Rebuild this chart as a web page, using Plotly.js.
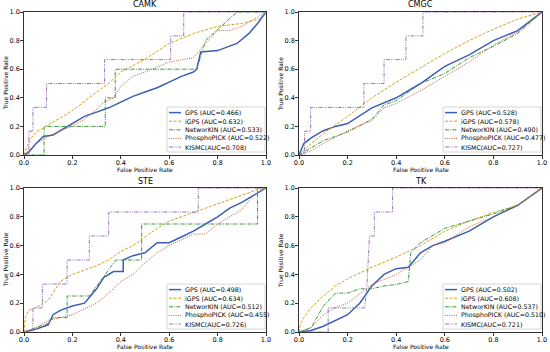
<!DOCTYPE html>
<html>
<head>
<meta charset="utf-8">
<script src="https://cdn.plot.ly/plotly-3.0.1.min.js"></script>
<style>html,body{margin:0;padding:0;background:#fff}#chart{width:550px;height:352px}</style>
</head>
<body>
<div id="chart"></div>
<script>
// ---------- DATA ----------
const panelNames = ["CAMK", "CMGC", "STE", "TK"];
const methodNames = ["GPS", "iGPS", "NetworKIN", "PhosphoPICK", "KISMC"];

// AUC values per panel [GPS, iGPS, NetworKIN, PhosphoPICK, KISMC]
const aucCAMK = ["0.466", "0.632", "0.533", "0.522", "0.708"];
const aucCMGC = ["0.528", "0.578", "0.490", "0.477", "0.727"];
const aucSTE  = ["0.498", "0.634", "0.512", "0.455", "0.726"];
const aucTK   = ["0.502", "0.608", "0.537", "0.510", "0.721"];

// ---- CAMK ----
const camkGpsX = [0,0.02,0.05,0.08,0.12,0.15,0.2,0.25,0.3,0.35,0.4,0.45,0.5,0.55,0.6,0.65,0.7,0.714,0.73,0.8,0.88,0.93,0.97,1];
const camkGpsY = [0,0.02,0.08,0.13,0.14,0.17,0.22,0.27,0.3,0.33,0.37,0.41,0.44,0.47,0.51,0.55,0.58,0.6,0.72,0.73,0.78,0.85,0.93,1];
const camkIgpsX = [0,0.01,0.03,0.05,0.1,0.15,0.2,0.3,0.35,0.4,0.5,0.6,0.7,0.8,0.9,0.97,1];
const camkIgpsY = [0,0.05,0.12,0.16,0.21,0.26,0.31,0.44,0.5,0.58,0.67,0.78,0.85,0.9,0.92,0.95,1];
const camkNetX = [0,0.083,0.083,0.336,0.336,0.377,0.377,0.714,0.75,0.88,1];
const camkNetY = [0,0,0.2,0.2,0.4,0.4,0.6,0.6,0.8,1,1];
const camkPpX = [0,0.03,0.05,0.1,0.15,0.2,0.25,0.3,0.33,0.37,0.4,0.45,0.5,0.6,0.7,0.75,0.8,0.85,0.9,0.95,1];
const camkPpY = [0,0.05,0.08,0.13,0.17,0.2,0.25,0.32,0.37,0.4,0.48,0.55,0.58,0.65,0.68,0.78,0.87,0.87,0.9,0.95,1];
const camkKisX = [0,0.02,0.02,0.037,0.037,0.093,0.093,0.333,0.333,0.606,0.606,0.66,0.66,1];
const camkKisY = [0,0,0.167,0.167,0.333,0.333,0.5,0.5,0.667,0.667,0.833,0.833,1,1];

// ---- CMGC ----
const cmgcGpsX = [0,0.02,0.05,0.1,0.15,0.2,0.3,0.4,0.5,0.6,0.7,0.8,0.9,1];
const cmgcGpsY = [0,0.08,0.12,0.17,0.2,0.22,0.33,0.4,0.5,0.62,0.7,0.8,0.87,1];
const cmgcIgpsX = [0,0.05,0.1,0.2,0.3,0.4,0.5,0.6,0.7,0.8,0.9,1];
const cmgcIgpsY = [0,0.08,0.15,0.27,0.4,0.51,0.61,0.71,0.8,0.88,0.95,1];
const cmgcNetX = [0,0.05,0.1,0.2,0.3,0.35,0.4,0.5,0.6,0.7,0.8,0.9,1];
const cmgcNetY = [0,0.05,0.1,0.16,0.25,0.35,0.38,0.5,0.57,0.68,0.76,0.85,1];
const cmgcPpX = [0,0.05,0.1,0.2,0.3,0.35,0.4,0.5,0.6,0.7,0.8,0.9,1];
const cmgcPpY = [0,0.03,0.08,0.17,0.24,0.33,0.36,0.45,0.55,0.65,0.77,0.86,1];
const cmgcKisX = [0,0.023,0.023,0.048,0.048,0.267,0.267,0.35,0.35,0.44,0.44,0.51,0.51,1];
const cmgcKisY = [0,0,0.167,0.167,0.333,0.333,0.5,0.5,0.667,0.667,0.833,0.833,1,1];

// ---- STE ----
const steGpsX = [0,0.05,0.1,0.12,0.15,0.2,0.25,0.3,0.33,0.37,0.41,0.41,0.45,0.5,0.55,0.6,0.65,0.7,0.75,0.8,0.85,0.9,0.95,1];
const steGpsY = [0,0.02,0.05,0.12,0.15,0.18,0.2,0.3,0.38,0.42,0.42,0.5,0.53,0.55,0.62,0.62,0.66,0.7,0.75,0.8,0.86,0.9,0.95,1];
const steIgpsX = [0,0.005,0.02,0.05,0.1,0.15,0.2,0.25,0.3,0.35,0.4,0.45,0.5,0.55,0.6,0.7,0.8,0.9,0.95,1];
const steIgpsY = [0,0.1,0.15,0.17,0.22,0.35,0.4,0.43,0.46,0.5,0.56,0.6,0.66,0.72,0.77,0.83,0.89,0.95,0.98,1];
const steNetX = [0,0.1,0.12,0.178,0.178,0.27,0.38,0.486,0.486,0.965,0.965,1];
const steNetY = [0,0.06,0.1,0.1,0.25,0.25,0.5,0.5,0.75,0.75,1,1];
const stePpX = [0,0.05,0.1,0.15,0.2,0.3,0.35,0.4,0.45,0.5,0.55,0.6,0.7,0.75,0.8,0.9,0.95,1];
const stePpY = [0,0.03,0.08,0.1,0.12,0.2,0.27,0.35,0.4,0.48,0.55,0.6,0.68,0.68,0.75,0.85,0.95,1];
const steKisX = [0,0.037,0.037,0.076,0.076,0.178,0.178,0.27,0.27,0.35,0.35,0.72,0.72,1];
const steKisY = [0,0,0.167,0.167,0.333,0.333,0.5,0.5,0.667,0.667,0.833,0.833,1,1];

// ---- TK ----
const tkGpsX = [0,0.05,0.1,0.15,0.2,0.25,0.3,0.35,0.4,0.45,0.5,0.55,0.6,0.7,0.8,0.9,1];
const tkGpsY = [0,0.01,0.04,0.08,0.12,0.2,0.32,0.4,0.44,0.45,0.55,0.6,0.63,0.7,0.8,0.88,1];
const tkIgpsX = [0,0.005,0.02,0.05,0.1,0.15,0.2,0.3,0.4,0.5,0.6,0.7,0.8,0.9,1];
const tkIgpsY = [0,0.05,0.1,0.17,0.25,0.32,0.37,0.45,0.52,0.6,0.7,0.77,0.83,0.88,1];
const tkNetX = [0,0.05,0.08,0.1,0.15,0.2,0.25,0.3,0.35,0.4,0.45,0.46,0.5,0.6,0.7,0.8,0.9,1];
const tkNetY = [0,0.03,0.12,0.18,0.27,0.27,0.3,0.3,0.32,0.33,0.35,0.55,0.62,0.72,0.77,0.82,0.88,1];
const tkPpX = [0,0.05,0.1,0.15,0.2,0.3,0.4,0.45,0.5,0.55,0.6,0.7,0.8,0.9,1];
const tkPpY = [0,0.03,0.12,0.17,0.2,0.33,0.4,0.45,0.5,0.6,0.62,0.73,0.8,0.88,1];
const tkKisX = [0,0.12,0.12,0.27,0.28,0.285,0.29,0.31,0.31,0.385,0.385,1];
const tkKisY = [0,0,0.167,0.167,0.333,0.5,0.667,0.667,0.833,0.833,1,1];

const tickVals = [0, 0.2, 0.4, 0.6, 0.8, 1.0];
const tickText = ["0.0", "0.2", "0.4", "0.6", "0.8", "1.0"];
const xTitle = "False Positive Rate";
const yTitle = "True Positive Rate";

// ---------- BUILD ----------
const panelData = [
  {auc: aucCAMK, xs: [camkGpsX, camkIgpsX, camkNetX, camkPpX, camkKisX], ys: [camkGpsY, camkIgpsY, camkNetY, camkPpY, camkKisY]},
  {auc: aucCMGC, xs: [cmgcGpsX, cmgcIgpsX, cmgcNetX, cmgcPpX, cmgcKisX], ys: [cmgcGpsY, cmgcIgpsY, cmgcNetY, cmgcPpY, cmgcKisY]},
  {auc: aucSTE,  xs: [steGpsX, steIgpsX, steNetX, stePpX, steKisX], ys: [steGpsY, steIgpsY, steNetY, stePpY, steKisY]},
  {auc: aucTK,   xs: [tkGpsX, tkIgpsX, tkNetX, tkPpX, tkKisX], ys: [tkGpsY, tkIgpsY, tkNetY, tkPpY, tkKisY]}
];

const styles = [
  {color: "#3b5fb5", width: 1.5, dash: "solid"},
  {color: "#d9a21b", width: 1.0, dash: "3px,1.5px"},
  {color: "#3a9a3a", width: 1.0, dash: "4px,1.2px,1px,1.2px"},
  {color: "#c4613e", width: 1.0, dash: "1px,1.2px"},
  {color: "#9a74b4", width: 1.0, dash: "4px,1.2px,1px,1.2px,1px,1.2px"}
];

const W = 550, H = 352;
// plot areas in pixels: [left, right], [top, bottom]
const colPx = [[24, 266], [299, 542]];
const rowPx = [[12, 155], [188, 332]];
const px = v => v / W;
const py = v => (H - v) / H;

const FONT = "DejaVu Sans, sans-serif";
const traces = [];
const layout = {
  width: W, height: H,
  margin: {l: 0, r: 0, t: 0, b: 0},
  paper_bgcolor: "#ffffff", plot_bgcolor: "#ffffff",
  font: {family: FONT, size: 6.5, color: "#000"},
  showlegend: false,
  annotations: [], shapes: []
};

panelData.forEach((p, i) => {
  const col = i % 2, row = Math.floor(i / 2);
  const ax = i === 0 ? "" : String(i + 1);
  const L = colPx[col][0], R = colPx[col][1], T = rowPx[row][0], B = rowPx[row][1];
  for (let k = 0; k < 5; k++) {
    const sep = k === 4 ? "(AUC=" : " (AUC=";
    traces.push({
      type: "scatter", mode: "lines",
      x: p.xs[k], y: p.ys[k],
      xaxis: "x" + ax, yaxis: "y" + ax,
      name: methodNames[k] + sep + p.auc[k] + ")",
      line: {color: styles[k].color, width: styles[k].width, dash: styles[k].dash},
      hoverinfo: "skip"
    });
  }
  const axCommon = {
    range: [0, 1], tickvals: tickVals, ticktext: tickText,
    showgrid: false, zeroline: false, showline: true, mirror: true,
    linecolor: "#000", linewidth: 0.8, ticks: "outside", ticklen: 3, tickwidth: 0.8,
    tickcolor: "#000", tickfont: {family: FONT, size: 6.5, color: "#000"}, fixedrange: true
  };
  layout["xaxis" + ax] = Object.assign({}, axCommon, {domain: [px(L), px(R)], anchor: "y" + ax, ticklabelstandoff: -2});
  layout["yaxis" + ax] = Object.assign({}, axCommon, {domain: [py(B), py(T)], anchor: "x" + ax, ticklabelstandoff: -1});

  // panel title
  layout.annotations.push({
    text: panelNames[i], xref: "paper", yref: "paper",
    x: px((L + R) / 2), y: py(T - 7), xanchor: "center", yanchor: "middle", showarrow: false,
    font: {family: FONT, size: 8, color: "#000"}
  });
  // axis titles
  layout.annotations.push({
    text: xTitle, xref: "paper", yref: "paper",
    x: px((L + R) / 2), y: py(B + 14.5), xanchor: "center", yanchor: "middle", showarrow: false,
    font: {family: FONT, size: 6, color: "#000"}
  });
  layout.annotations.push({
    text: yTitle, xref: "paper", yref: "paper", textangle: -90,
    x: px(L - 19), y: py((T + B) / 2), xanchor: "center", yanchor: "middle", showarrow: false,
    font: {family: FONT, size: 6, color: "#000"}
  });

  // legend box (lower right)
  const lgL = R - 99, lgR = R - 1, lgT = B - 48, lgB = B - 3;
  layout.shapes.push({
    type: "rect", xref: "paper", yref: "paper",
    x0: px(lgL), x1: px(lgR), y0: py(lgB), y1: py(lgT),
    fillcolor: "rgba(255,255,255,0.85)", line: {color: "#cccccc", width: 0.8}, layer: "above"
  });
  for (let k = 0; k < 5; k++) {
    const yy = lgT + 5.6 + k * 8.6;
    layout.shapes.push({
      type: "line", xref: "paper", yref: "paper",
      x0: px(lgL + 2), x1: px(lgL + 14), y0: py(yy), y1: py(yy),
      line: {color: styles[k].color, width: styles[k].width, dash: styles[k].dash}, layer: "above"
    });
    const sep = k === 4 ? "(AUC=" : " (AUC=";
    layout.annotations.push({
      text: methodNames[k] + sep + p.auc[k] + ")", xref: "paper", yref: "paper",
      x: px(lgL + 16), y: py(yy), xanchor: "left", yanchor: "middle", showarrow: false,
      font: {family: FONT, size: 6.3, color: "#000"}
    });
  }
});

Plotly.newPlot("chart", traces, layout, {staticPlot: true, displayModeBar: false});
</script>
</body>
</html>
